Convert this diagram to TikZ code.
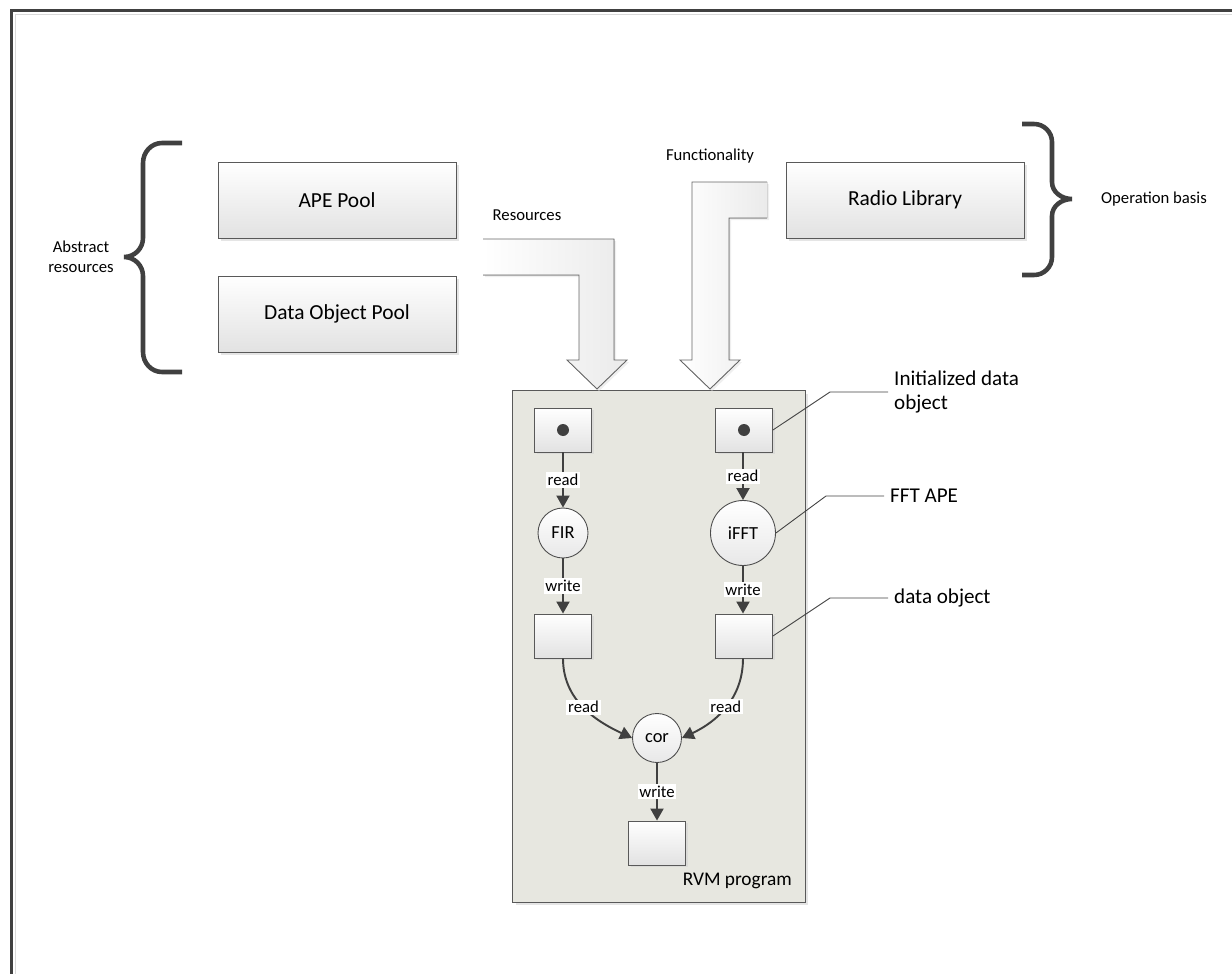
\documentclass[tikz,border=0pt]{standalone}
\usepackage{fontspec}
\setmainfont{Carlito}
\usetikzlibrary{arrows.meta,positioning,shadows}
\definecolor{linegray}{RGB}{64,64,64}
\definecolor{boxgray}{RGB}{226,226,226}
\definecolor{rvmfill}{RGB}{231,231,224}

\begin{document}
\begin{tikzpicture}[
    x=0.02cm, y=-0.02cm,
    font=\fontsize{12.2}{14}\selectfont,
    pool/.style={draw=black!65, top color=white, bottom color=boxgray, minimum width=4.76cm, minimum height=1.52cm, line width=0.5pt, drop shadow={shadow xshift=1.6pt, shadow yshift=-1.6pt, fill=black!20}},
    dobj/.style={draw=black!65, top color=white, bottom color=boxgray, minimum width=1.14cm, minimum height=0.88cm, line width=0.5pt, drop shadow={shadow xshift=1.2pt, shadow yshift=-1.2pt, fill=black!18}},
    ape/.style={circle, draw=black!70, top color=white, bottom color=boxgray!80, inner sep=0pt, line width=0.5pt, font=\fontsize{10.5}{12}\selectfont},
    rvm/.style={draw=black!65, fill=rvmfill, minimum width=5.86cm, minimum height=10.24cm, line width=0.5pt, drop shadow={shadow xshift=2pt, shadow yshift=-2pt, fill=black!20}},
    flow/.style={-{Triangle[length=2.4mm, width=2.6mm]}, draw=linegray, line width=1.1pt},
    lbl/.style={fill=white, inner sep=1pt, font=\fontsize{9.5}{11}\selectfont},
    leader/.style={draw=linegray, line width=0.5pt},
    brace/.style={draw=linegray, line width=2.6pt},
    bigarrow/.style={draw=black!60, line width=0.5pt},
    note/.style={font=\fontsize{9.5}{11.5}\selectfont, align=center}
]
\useasboundingbox (0,0) rectangle (1232,974);

% ---- Frame ----
\draw[black!15, line width=0.5pt] (15,974) -- (15,14.5) -- (1232,14.5);
\draw[linegray, line width=0.06cm] (11.5,974) -- (11.5,10.5) -- (1232,10.5);

% ---- Pools and library ----
\node[pool] (apepool) at (337,200) {APE Pool};
\node[pool] (dopool) at (337,314) {Data Object Pool};
\node[pool] (radiolib) at (905,200) {Radio Library};

% ---- Braces ----
\draw[brace] (182,143) -- (162,143) to[out=180,in=90] (143,163) -- (143,238) to[out=-90,in=0] (124,257)
    to[out=0,in=90] (143,276) -- (143,352) to[out=-90,in=180] (162,372) -- (182,372);
\node[note] (abstract) at (81,257) {Abstract\\resources};
\draw[brace] (1022,124) -- (1034,124) to[out=0,in=90] (1052,142) -- (1052,182) to[out=-90,in=180] (1072,199)
    to[out=180,in=90] (1052,216) -- (1052,257) to[out=-90,in=0] (1034,275) -- (1022,275);
\node[note] (opbasis) at (1154,199) {Operation basis};

% ---- RVM program ----
\node[rvm] (rvmbox) at (658.5,646) {};
\node[anchor=east, font=\fontsize{11}{13}\selectfont] (rvmlbl) at (798,881) {RVM program};

% ---- Wide arrows into the program ----
\fill[left color=white, right color=black!8, drop shadow={shadow xshift=1.2pt, shadow yshift=-1.2pt, fill=black!12}]
    (483,239) -- (614,239) -- (614,360) -- (627,360) -- (597,389) -- (567,360) -- (579,360) -- (579,275) -- (483,275) -- cycle;
\draw[bigarrow] (483,239) -- (614,239) -- (614,360) -- (627,360) -- (597,389) -- (567,360) -- (579,360) -- (579,275) -- (483,275);
\node[note] (reslbl) at (527,215) {Resources};

\fill[left color=white, right color=black!8, drop shadow={shadow xshift=1.2pt, shadow yshift=-1.2pt, fill=black!12}]
    (767,182) -- (692,182) -- (692,360) -- (680,360) -- (710,389) -- (740,360) -- (729,360) -- (729,218) -- (767,218) -- cycle;
\draw[bigarrow] (767,182) -- (692,182) -- (692,360) -- (680,360) -- (710,389) -- (740,360) -- (729,360) -- (729,218) -- (767,218);
\node[note] (funclbl) at (710,156) {Functionality};

% ---- Data objects and APEs ----
\node[dobj] (din1) at (563,430) {};
\node[dobj] (din2) at (744,430) {};
\fill[linegray] (din1.center) circle[radius=0.12cm];
\fill[linegray] (din2.center) circle[radius=0.12cm];
\node[ape, minimum size=1cm] (fir) at (563,533) {FIR};
\node[ape, minimum size=1.3cm] (ifft) at (743,533) {iFFT};
\node[dobj] (dmid1) at (563,636) {};
\node[dobj] (dmid2) at (744,636) {};
\node[ape, minimum size=0.98cm] (cor) at (657,738) {cor};
\node[dobj] (dout) at (657,843) {};

% ---- Read / write flows ----
\draw[flow] (din1) -- node[lbl]{read} (fir);
\draw[flow] (fir) -- node[lbl]{write} (dmid1);
\draw[flow] (din2.south -| ifft) -- node[lbl]{read} (ifft);
\draw[flow] (ifft) -- node[lbl]{write} (dmid2.north -| ifft);
\draw[flow] (dmid1.south) to[out=-90,in=155] node[lbl, pos=0.5]{read} (cor.west);
\draw[flow] (dmid2.south -| ifft) to[out=-90,in=25] node[lbl, pos=0.5]{read} (cor.east);
\draw[flow] (cor) -- node[lbl]{write} (dout);

% ---- Callouts ----
\node[anchor=west, align=left, font=\fontsize{12}{14}\selectfont] (initlbl) at (888,392) {Initialized data\\object};
\node[anchor=west, font=\fontsize{12}{14}\selectfont] (ffflbl) at (884,496) {FFT APE};
\node[anchor=west, font=\fontsize{12}{14}\selectfont] (dolbl) at (888,598) {data object};
\draw[leader] (din2.east) -- (830,392) -- (initlbl.west);
\draw[leader] (ifft.east) -- (826,496) -- (ffflbl.west);
\draw[leader] (dmid2.east) -- (830,598) -- (dolbl.west);

\end{tikzpicture}
\end{document}
